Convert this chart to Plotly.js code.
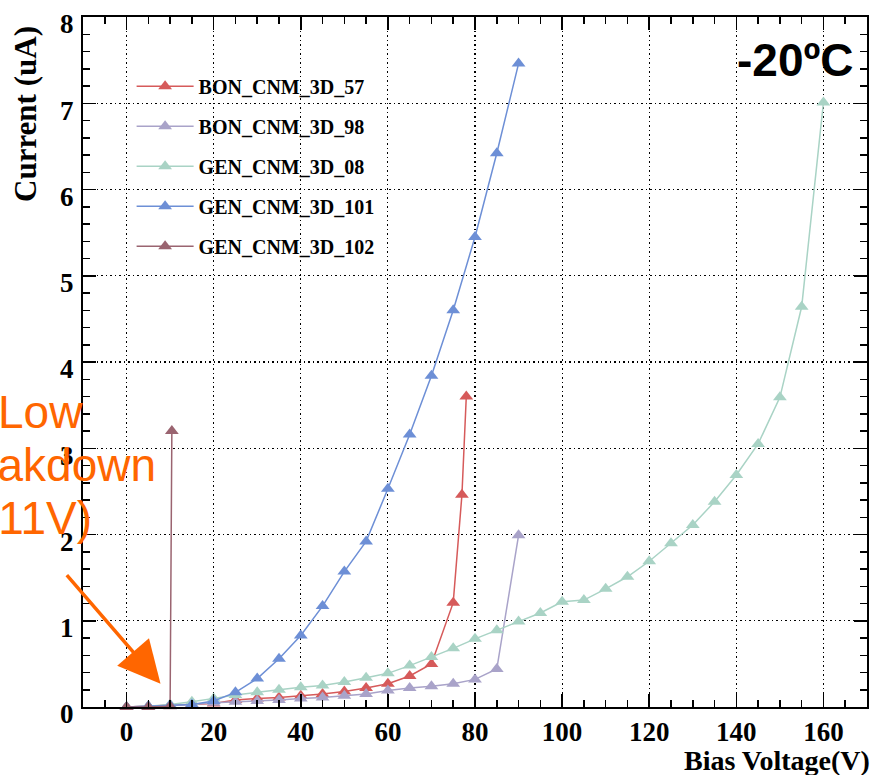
<!DOCTYPE html>
<html>
<head>
<meta charset="utf-8">
<script src="https://cdn.plot.ly/plotly-3.0.1.min.js"></script>
<style>html,body{margin:0;padding:0;background:#fff;}</style>
</head>
<body>
<div id="chart" style="width:870px;height:775px;"></div>
<script>
// IV curves of CNM 3D sensors measured at -20 C
const seriesNames = ['BON_CNM_3D_57', 'BON_CNM_3D_98', 'GEN_CNM_3D_08', 'GEN_CNM_3D_101', 'GEN_CNM_3D_102'];
const seriesColors = ['#d65a5a', '#a9a3c9', '#a9d3c5', '#6d8fd6', '#9a6470'];

const voltage57 = [0, 5, 10, 15, 20, 25, 30, 35, 40, 45, 50, 55, 60, 65, 70, 75, 77, 78];
const current57 = [0.0, 0.01, 0.02, 0.03, 0.04, 0.08, 0.10, 0.11, 0.13, 0.15, 0.18, 0.22, 0.27, 0.36, 0.50, 1.21, 2.46, 3.60];

const voltage98 = [0, 5, 10, 15, 20, 25, 30, 35, 40, 45, 50, 55, 60, 65, 70, 75, 80, 85, 90];
const current98 = [0.0, 0.01, 0.02, 0.03, 0.05, 0.06, 0.07, 0.08, 0.10, 0.11, 0.13, 0.15, 0.19, 0.22, 0.24, 0.27, 0.32, 0.44, 1.99];

const voltage08 = [0, 5, 10, 15, 20, 25, 30, 35, 40, 45, 50, 55, 60, 65, 70, 75, 80, 85, 90, 95,
                   100, 105, 110, 115, 120, 125, 130, 135, 140, 145, 150, 155, 160];
const current08 = [0.0, 0.01, 0.03, 0.06, 0.10, 0.14, 0.17, 0.20, 0.23, 0.25, 0.29, 0.34, 0.39, 0.48, 0.58, 0.68, 0.79, 0.89, 0.99, 1.09,
                   1.22, 1.24, 1.37, 1.51, 1.69, 1.90, 2.11, 2.38, 2.69, 3.05, 3.59, 4.64, 7.01];

const voltage101 = [0, 5, 10, 15, 20, 25, 30, 35, 40, 45, 50, 55, 60, 65, 70, 75, 80, 85, 90];
const current101 = [0.0, 0.01, 0.02, 0.03, 0.07, 0.17, 0.33, 0.56, 0.83, 1.17, 1.57, 1.92, 2.53, 3.16, 3.84, 4.60, 5.45, 6.42, 7.46];

const voltage102 = [0, 5, 10, 10.4];
const current102 = [0.0, 0.0, 0.01, 3.20];

const xTickVals = [0, 20, 40, 60, 80, 100, 120, 140, 160];
const yTickVals = [0, 1, 2, 3, 4, 5, 6, 7, 8];

const allVoltages = [voltage57, voltage98, voltage08, voltage101, voltage102];
const allCurrents = [current57, current98, current08, current101, current102];

const traces = seriesNames.map((name, i) => ({
  type: 'scatter',
  mode: 'lines+markers',
  name: name,
  legendgroup: 'g' + i,
  x: allVoltages[i],
  y: allCurrents[i],
  line: {color: seriesColors[i], width: 1.5},
  marker: {symbol: 'triangle-up', size: 12, color: seriesColors[i]},
  cliponaxis: false
}));

const serif = 'Liberation Serif';
const sans = 'Liberation Sans';
const orange = '#ff6600';

function makeAxis(extra) {
  const base = {
    showline: true,
    linecolor: '#000',
    linewidth: 2,
    mirror: 'ticks',
    ticks: 'inside',
    tickcolor: '#000',
    tickwidth: 1.5,
    ticklen: 13,
    showgrid: true,
    gridcolor: '#000',
    gridwidth: 1.2,
    griddash: '1.5px,3px',
    zeroline: false,
    tickfont: {family: serif, size: 27, color: '#000', weight: 'bold'}
  };
  return Object.assign(base, extra);
}

const layout = {
  width: 870,
  height: 775,
  margin: {l: 83, r: 3, t: 17, b: 68},
  paper_bgcolor: '#fff',
  plot_bgcolor: '#fff',
  font: {family: serif, color: '#000'},
  showlegend: true,
  legend: {
    x: 0.062, y: 0.928, xanchor: 'left', yanchor: 'top',
    bgcolor: 'rgba(255,255,255,0)',
    borderwidth: 0,
    traceorder: 'grouped',
    tracegroupgap: 11,
    itemwidth: 57,
    font: {family: serif, size: 20, color: '#000', weight: 'bold'}
  },
  xaxis: makeAxis({
    range: [-10, 170],
    tickvals: xTickVals,
    ticktext: xTickVals.map(String),
    minor: {dtick: 5, tick0: 0, ticks: 'inside', ticklen: 7, tickcolor: '#000', tickwidth: 1.5, showgrid: false}
  }),
  yaxis: makeAxis({
    range: [0, 8],
    tickvals: yTickVals,
    ticktext: yTickVals.map(String),
    ticklabelshift: 7,
    ticklabelstandoff: 2,
    minor: {dtick: 0.2, tick0: 0, ticks: 'inside', ticklen: 7, tickcolor: '#000', tickwidth: 1.5, showgrid: false}
  }),
  annotations: [
    {xref: 'paper', yref: 'paper', x: 1.006, y: -0.077, xanchor: 'right', yanchor: 'middle',
     text: 'Bias Voltage(V)', showarrow: false,
     font: {family: serif, size: 28, color: '#000', weight: 'bold'}},
    {xref: 'paper', yref: 'paper', x: -0.0735, y: 0.86, xanchor: 'center', yanchor: 'middle',
     text: 'Current (uA)', textangle: -90, showarrow: false,
     font: {family: serif, size: 31, color: '#000', weight: 'bold'}},
    {xref: 'paper', yref: 'paper', x: 0.909, y: 0.938, xanchor: 'center', yanchor: 'middle',
     text: '-20ºC', showarrow: false,
     font: {family: sans, size: 46, color: '#000', weight: 'bold'}},
    {xref: 'paper', yref: 'paper', x: 0.003, y: 0.428, xanchor: 'right', yanchor: 'middle',
     text: 'Low', showarrow: false, font: {family: sans, size: 46, color: orange}},
    {xref: 'paper', yref: 'paper', x: 0.096, y: 0.351, xanchor: 'right', yanchor: 'middle',
     text: 'breakdown', showarrow: false, font: {family: sans, size: 46, color: orange}},
    {xref: 'paper', yref: 'paper', x: 0.0145, y: 0.274, xanchor: 'right', yanchor: 'middle',
     text: '(11V)', showarrow: false, font: {family: sans, size: 46, color: orange}},
    {xref: 'x', yref: 'y', x: 7.8, y: 0.27, ax: -95, ay: -110,
     text: '', showarrow: true, arrowhead: 2, arrowwidth: 3.5, arrowsize: 2.4,
     arrowcolor: orange, standoff: 0, startstandoff: 0}
  ]
};

Plotly.newPlot('chart', traces, layout, {staticPlot: true, displayModeBar: false});
</script>
</body>
</html>
